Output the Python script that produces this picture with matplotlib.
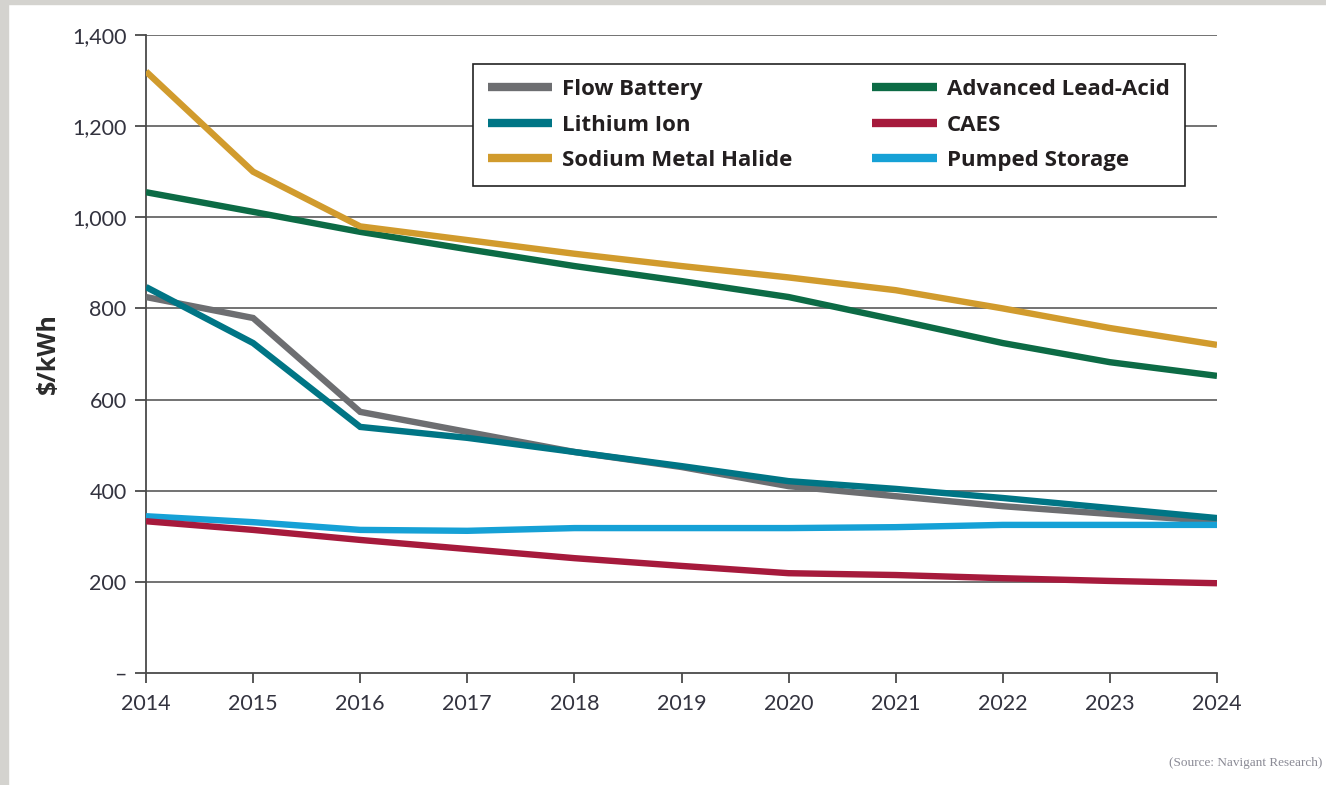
import matplotlib
matplotlib.use("Agg")
import matplotlib.pyplot as plt
from matplotlib.patches import Rectangle

years = [2014, 2015, 2016, 2017, 2018, 2019, 2020, 2021, 2022, 2023, 2024]

flow_battery = [825, 779, 573, 529, 485, 452, 410, 388, 366, 349, 333]
lithium_ion = [847, 724, 540, 516, 485, 454, 421, 404, 384, 362, 340]
sodium_metal_halide = [1320, 1100, 980, 950, 920, 893, 868, 840, 800, 757, 720]
advanced_lead_acid = [1055, 1012, 968, 930, 893, 860, 825, 775, 724, 682, 652]
caes = [333, 314, 292, 272, 252, 235, 219, 215, 208, 202, 197]
pumped_storage = [344, 331, 314, 312, 318, 318, 318, 320, 325, 325, 325]

y_ticks = [0, 200, 400, 600, 800, 1000, 1200, 1400]
y_tick_labels = ["–", "200", "400", "600", "800", "1,000", "1,200", "1,400"]

series = [
    ("Flow Battery", flow_battery, "#6d6e71"),
    ("Lithium Ion", lithium_ion, "#007585"),
    ("Sodium Metal Halide", sodium_metal_halide, "#d19b2d"),
    ("Advanced Lead-Acid", advanced_lead_acid, "#0c6b45"),
    ("CAES", caes, "#a61a3c"),
    ("Pumped Storage", pumped_storage, "#16a1d6"),
]

fig = plt.figure(figsize=(13.26, 7.85), dpi=100)
fig.patch.set_facecolor("white")
# light grey page edge on the left and top
fig.patches.append(Rectangle((0, 0), 8 / 1326, 1, transform=fig.transFigure,
                             color="#d4d3cf", zorder=0))
fig.patches.append(Rectangle((0, 1 - 4 / 785), 1, 4 / 785, transform=fig.transFigure,
                             color="#d4d3cf", zorder=0))

ax = fig.add_axes([146 / 1326, 112 / 785, 1071 / 1326, 638 / 785])

draw_order = ["Flow Battery", "Lithium Ion", "Advanced Lead-Acid",
              "Sodium Metal Halide", "Pumped Storage", "CAES"]
lines = {}
for name, vals, col in series:
    ln, = ax.plot(years, vals, color=col, lw=4.6, label=name,
                  solid_capstyle="butt", solid_joinstyle="miter",
                  zorder=3 + draw_order.index(name) * 0.1)
    lines[name] = ln

ax.set_xlim(2014, 2024)
ax.set_ylim(0, 1400)
ax.set_xticks(years)
ax.set_xticklabels([str(y) for y in years])
ax.set_yticks(y_ticks)
ax.set_yticklabels(y_tick_labels)

for v in y_ticks[1:]:
    ax.axhline(v, color="#5a5a5a", lw=1.2, zorder=1)

for side in ["top", "right"]:
    ax.spines[side].set_visible(False)
for side in ["left", "bottom"]:
    ax.spines[side].set_color("#4a4a4a")
    ax.spines[side].set_linewidth(1.3)

tick_color = "#33333f"
ax.tick_params(axis="y", length=8, width=1.3, color="#4a4a4a", pad=6,
               labelsize=15.5, labelcolor=tick_color)
ax.tick_params(axis="x", length=7, width=1.3, color="#4a4a4a", pad=8,
               labelsize=15.5, labelcolor=tick_color)
for lbl in ax.get_xticklabels() + ax.get_yticklabels():
    lbl.set_family("Lato")

ax.set_ylabel("$/kWh", fontsize=18, fontweight="bold", family="Open Sans",
              color="#2b2b2b", labelpad=8)

handles = [lines[n] for n in ["Flow Battery", "Lithium Ion", "Sodium Metal Halide",
                              "Advanced Lead-Acid", "CAES", "Pumped Storage"]]
leg = ax.legend(handles=handles, ncol=2, loc="upper left",
                bbox_to_anchor=(0.305, 0.768, 0.665, 0.1865), mode="expand",
                frameon=True, fancybox=False,
                handlelength=2.9, handletextpad=0.45, columnspacing=1.0,
                labelspacing=0.65, borderpad=0.68, borderaxespad=0.0,
                prop={"family": "Open Sans", "weight": "bold", "size": 16})
leg.get_frame().set_edgecolor("#222222")
leg.get_frame().set_linewidth(1.2)
leg.get_frame().set_alpha(1)
leg.set_zorder(10)
for t in leg.get_texts():
    t.set_color("#231f20")
for h in leg.legend_handles:
    h.set_linewidth(6)

fig.text(1322 / 1326, 1 - 763 / 785, "(Source: Navigant Research)",
         ha="right", va="center", fontsize=9.5, family="Liberation Serif",
         color="#8a8a95")

fig.savefig("out.png", dpi=100)
